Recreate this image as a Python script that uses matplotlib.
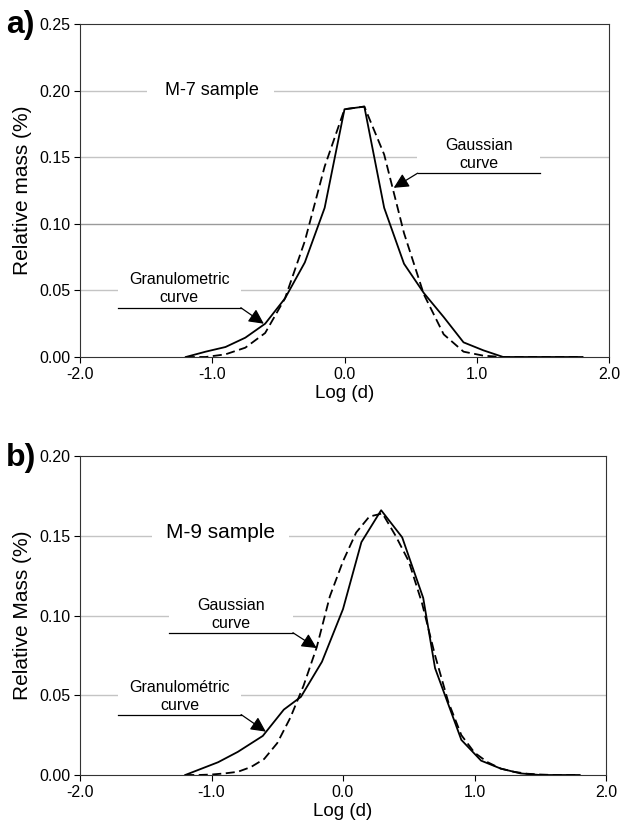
import matplotlib
matplotlib.use("Agg")
import matplotlib.pyplot as plt
from matplotlib.ticker import FormatStrFormatter

plt.rcParams['font.family'] = ['Liberation Sans', 'DejaVu Sans']

# ---------------- data: panel a (M-7 sample) ----------------
a_logd = [-1.2, -1.05, -0.9, -0.75, -0.6, -0.45, -0.3, -0.15, 0.0, 0.15, 0.3, 0.45,
          0.6, 0.75, 0.9, 1.05, 1.2, 1.35, 1.5, 1.65, 1.8]
a_granulometric = [0.0, 0.004, 0.0075, 0.0145, 0.025, 0.044, 0.071, 0.112, 0.186, 0.188,
                   0.112, 0.070, 0.048, 0.030, 0.011, 0.005, 0.0, 0.0, 0.0, 0.0, 0.0]
a_gaussian = [0.0, 0.0, 0.002, 0.007, 0.018, 0.044, 0.087, 0.143, 0.186, 0.188,
              0.152, 0.093, 0.047, 0.017, 0.004, 0.001, 0.0, 0.0, 0.0, 0.0, 0.0]

# ---------------- data: panel b (M-9 sample) ----------------
b_logd_gran = [-1.2, -0.95, -0.8, -0.61, -0.45, -0.32, -0.16, 0.0, 0.14, 0.29, 0.45,
               0.61, 0.70, 0.9, 1.05, 1.2, 1.35, 1.5, 1.65, 1.8]
b_granulometric = [0.0, 0.008, 0.0145, 0.0245, 0.041, 0.049, 0.071, 0.104, 0.146, 0.166,
                   0.149, 0.111, 0.067, 0.022, 0.009, 0.004, 0.001, 0.0, 0.0, 0.0]
b_logd_gauss = [-1.2, -1.1, -1.0, -0.9, -0.8, -0.7, -0.6, -0.5, -0.4, -0.3, -0.2, -0.1,
                0.0, 0.1, 0.2, 0.3, 0.4, 0.5, 0.6, 0.7, 0.8, 0.9, 1.0, 1.1, 1.2, 1.3,
                1.4, 1.5, 1.6, 1.7, 1.8]
b_gaussian = [0.0, 0.0, 0.0003, 0.001, 0.002, 0.005, 0.010, 0.020, 0.036, 0.056, 0.080,
              0.112, 0.134, 0.152, 0.162, 0.164, 0.150, 0.134, 0.108, 0.075, 0.046,
              0.025, 0.014, 0.008, 0.004, 0.002, 0.0008, 0.0003, 0.0, 0.0, 0.0]

x_ticks = [-2.0, -1.0, 0.0, 1.0, 2.0]
a_yticks = [0.0, 0.05, 0.10, 0.15, 0.20, 0.25]
b_yticks = [0.0, 0.05, 0.10, 0.15, 0.20]

fig = plt.figure(figsize=(6.22, 8.34), dpi=100)
W, H = 622, 834
ax1 = fig.add_axes([80 / W, 1 - 357 / H, (609 - 80) / W, (357 - 24) / H])
ax2 = fig.add_axes([80 / W, 1 - 775 / H, (606 - 80) / W, (775 - 456) / H])


def style(ax, yticks, ylabel, dark=None):
    ax.set_xlim(-2, 2)
    ax.set_ylim(yticks[0], yticks[-1])
    ax.set_xticks(x_ticks)
    ax.set_yticks(yticks)
    ax.xaxis.set_major_formatter(FormatStrFormatter('%.1f'))
    ax.yaxis.set_major_formatter(FormatStrFormatter('%.2f'))
    ax.tick_params(direction='out', length=4, width=0.8, labelsize=11.5, colors='black',
                   pad=3)
    for s in ax.spines.values():
        s.set_linewidth(0.8)
        s.set_color('#333333')
    for yv in yticks[1:-1]:
        c = '#9a9a9a' if (dark is not None and abs(yv - dark) < 1e-9) else '#c4c4c4'
        ax.axhline(yv, color=c, lw=1.0, zorder=0)
    ax.set_xlabel('Log (d)', fontsize=13.5, labelpad=2)
    ax.set_ylabel(ylabel, fontsize=15, labelpad=5)


def pointer(ax, x0, x1, y, tip):
    ax.plot([x0, x1], [y, y], color='black', lw=0.9, zorder=5)
    ax.annotate('', xy=tip, xytext=(x1, y),
                arrowprops=dict(arrowstyle='-|>,head_length=0.9,head_width=0.45',
                                color='black', lw=0.9, shrinkA=0, shrinkB=0), zorder=5)


def whiteout(ax, x0, x1, y):
    ax.plot([x0, x1], [y, y], color='white', lw=3, zorder=1, solid_capstyle='butt')


# ---- panel a ----
style(ax1, a_yticks, 'Relative mass (%)', dark=0.10)
ax1.plot(a_logd, a_granulometric, color='black', lw=1.3, zorder=4)
ax1.plot(a_logd, a_gaussian, color='black', lw=1.3, ls=(0, (5, 2.5)), zorder=4)
whiteout(ax1, -1.49, -0.53, 0.20)
ax1.text(-1.0, 0.200, 'M-7 sample', ha='center', va='center', fontsize=13, zorder=3)
whiteout(ax1, 0.55, 1.48, 0.15)
ax1.text(1.02, 0.152, 'Gaussian\ncurve', ha='center', va='center', fontsize=11.5,
         linespacing=1.2, zorder=3)
pointer(ax1, 1.48, 0.553, 0.138, (0.372, 0.127))
whiteout(ax1, -1.71, -0.78, 0.05)
ax1.text(-1.25, 0.0515, 'Granulometric\ncurve', ha='center', va='center', fontsize=11.5,
         linespacing=1.2, zorder=3)
pointer(ax1, -1.715, -0.784, 0.037, (-0.61, 0.025))
fig.text(6 / W, 1 - 33 / H, 'a)', fontsize=23, fontweight='bold', ha='left', va='baseline')

# ---- panel b ----
style(ax2, b_yticks, 'Relative Mass (%)')
ax2.plot(b_logd_gran, b_granulometric, color='black', lw=1.3, zorder=4)
ax2.plot(b_logd_gauss, b_gaussian, color='black', lw=1.3, ls=(0, (5, 2.5)), zorder=4)
whiteout(ax2, -1.455, -0.41, 0.15)
ax2.text(-0.935, 0.152, 'M-9 sample', ha='center', va='center', fontsize=15, zorder=3)
whiteout(ax2, -1.32, -0.38, 0.10)
ax2.text(-0.85, 0.1007, 'Gaussian\ncurve', ha='center', va='center', fontsize=11.5,
         linespacing=1.2, zorder=3)
pointer(ax2, -1.32, -0.381, 0.0892, (-0.2, 0.0796))
whiteout(ax2, -1.71, -0.775, 0.05)
ax2.text(-1.243, 0.0493, 'Granulométric\ncurve', ha='center', va='center', fontsize=11.5,
         linespacing=1.2, zorder=3)
pointer(ax2, -1.71, -0.775, 0.0379, (-0.587, 0.0272))
fig.text(6 / W, 1 - 466 / H, 'b)', fontsize=23, fontweight='bold', ha='left', va='baseline')

fig.savefig('out.png', dpi=100)
